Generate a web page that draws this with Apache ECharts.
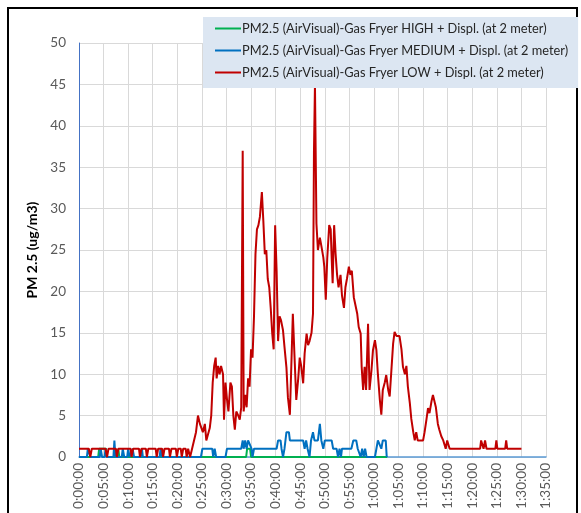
<!DOCTYPE html>
<html>
<head>
<meta charset="utf-8">
<script src="https://cdn.jsdelivr.net/npm/echarts@6/dist/echarts.min.js"></script>
<style>
  html, body { margin: 0; padding: 0; background: #ffffff; }
  #chart { width: 581px; height: 513px; }
</style>
</head>
<body>
<div id="chart"></div>
<script>
// Elapsed time is in minutes; PM2.5 readings in ug/m3.
const seriesNames = [
  'PM2.5 (AirVisual)-Gas Fryer HIGH + Displ. (at 2 meter)',
  'PM2.5 (AirVisual)-Gas Fryer MEDIUM + Displ. (at 2 meter)',
  'PM2.5 (AirVisual)-Gas Fryer LOW + Displ. (at 2 meter)'
];

const highTime = [0, 3.9, 4.1, 5.5, 5.7, 7.9, 8.0, 8.2, 34.0, 34.2, 34.8, 35.0, 62.7];
const highVal  = [0, 0,   1,   1,   0,   0,   1,   0,   0,    1,    1,    0,    0];

const mediumTime = [0, 1.6, 1.8, 2.1, 2.3, 4.2, 4.4, 4.7, 5.2, 5.4, 5.6, 7.0, 7.2, 7.4, 8.7, 8.9, 9.2, 9.8, 10.0, 10.3,
  10.7, 10.9, 11.2, 12.6, 12.8, 13.0, 16.4, 16.6, 16.9, 24.8, 25.1, 27.1, 27.3, 27.6, 27.9, 29.8, 30.1, 33.0, 33.3, 33.5,
  33.8, 34.1, 34.4, 34.8, 35.1, 35.3, 35.6, 40.2, 40.5, 41.0, 41.2, 41.5, 41.8, 42.0, 42.2, 42.7, 42.9, 45.6, 45.9, 46.2,
  46.5, 46.9, 47.2, 47.6, 47.9, 48.2, 48.6, 49.0, 49.3, 49.7, 50.0, 51.4, 51.7, 52.4, 52.7, 53.0, 53.3, 53.5, 55.4, 55.8,
  56.4, 56.7, 57.1, 57.3, 57.6, 57.9, 58.2, 58.5, 60.2, 60.5, 60.8, 61.2, 61.5, 61.8, 62.4, 62.6, 62.7];
const mediumVal = [0, 0, 1, 1, 0, 0, 1, 0, 0, 1, 0, 0, 2, 0, 0, 1, 0, 0, 1, 0,
  0, 1, 0, 0, 1, 0, 0, 1, 0, 0, 1, 1, 0, 1, 0, 0, 1, 1, 2, 1,
  2, 1, 2, 2, 1, 0, 1, 1, 2, 2, 1, 0, 1, 2, 3, 3, 2, 2, 1, 2,
  1, 0, 2, 3, 2, 2, 2, 4, 2, 1, 2, 2, 1, 1, 0, 1, 0, 1, 1, 2,
  2, 1, 1, 0, 1, 0, 1, 0, 0, 1, 2, 2, 1, 2, 2, 0, 0];

const lowTime = [0, 2.0, 2.3, 2.6, 5.4, 5.7, 6.0, 7.5, 7.7, 8.0, 10.5, 10.7, 11.0, 12.2, 12.4, 12.7, 13.6, 13.8, 14.1, 15.6,
  15.8, 16.1, 16.9, 17.1, 17.4, 18.3, 18.5, 18.8, 19.7, 19.9, 20.2, 20.7, 20.9, 21.2, 21.7, 21.9, 22.2, 22.6, 23.0, 23.4,
  23.8, 24.2, 24.6, 24.9, 25.2, 25.6, 25.9, 26.3, 26.6, 26.9, 27.2, 27.5, 27.8, 28.0, 28.3, 28.6, 28.9, 29.3, 29.5, 29.8,
  30.1, 30.4, 30.8, 31.1, 31.4, 31.7, 32.0, 32.4, 32.7, 33.0, 33.3, 33.5, 33.8, 34.1, 34.4, 34.7, 35.0, 35.3, 35.6, 35.9,
  36.2, 36.5, 36.8, 37.2, 37.5, 37.8, 38.1, 38.4, 38.7, 39.0, 39.3, 39.6, 39.9, 40.2, 40.5, 40.8, 41.1, 41.5, 41.8, 42.2,
  42.5, 42.9, 43.2, 43.5, 43.9, 44.2, 44.6, 44.9, 45.2, 45.6, 45.9, 46.3, 46.6, 46.9, 47.3, 47.6, 47.8, 48.0, 48.3, 48.6,
  49.0, 49.3, 49.7, 49.9, 50.2, 50.5, 50.9, 51.2, 51.4, 51.6, 51.9, 52.2, 52.5, 52.8, 53.2, 53.5, 53.9, 54.2, 54.5, 54.9,
  55.2, 55.5, 55.9, 56.2, 56.6, 56.9, 57.3, 57.5, 57.8, 58.1, 58.4, 58.8, 59.1, 59.5, 59.8, 60.2, 60.5, 60.8, 61.2, 61.5,
  61.8, 62.2, 62.5, 62.9, 63.2, 63.5, 63.9, 64.2, 64.6, 65.2, 65.6, 65.9, 66.3, 66.6, 66.9, 67.3, 67.6, 68.0, 68.3, 68.6,
  68.9, 70.0, 70.3, 70.7, 71.0, 71.3, 71.7, 72.0, 72.3, 72.6, 73.0, 73.3, 73.7, 74.1, 74.4, 74.6, 74.9, 75.1, 75.4, 81.6,
  81.8, 82.0, 82.3, 82.6, 82.9, 84.7, 84.9, 85.1, 86.7, 86.9, 87.1, 90.0];
const lowVal = [1, 1, 0, 1, 1, 0, 1, 1, 0, 1, 1, 0, 1, 1, 0, 1, 1, 0, 1, 1,
  0, 1, 1, 0, 1, 1, 0, 1, 1, 0, 1, 1, 0, 1, 1, 0, 1, 0, 1, 2,
  3, 5, 4, 4, 3, 4, 2, 2, 3.5, 5, 9, 11, 12, 9.5, 11, 10, 11, 10, 4.5, 9,
  7, 5.5, 9, 8.5, 5, 3.3, 5.5, 5, 4.5, 6, 37, 5.5, 7.5, 6, 9.5, 8.5, 13, 12, 17, 24.5,
  27.5, 28, 29, 32, 28.5, 24.5, 25, 21.5, 20.5, 18, 15, 13, 28, 22.5, 14, 17, 16.5, 15.3, 13.3, 10.8,
  7.2, 5.1, 5.1, 17.3, 11.3, 6.9, 9.5, 12, 11, 8.9, 12.5, 14.9, 13.5, 14, 15, 17.3, 37, 45, 28.2, 25,
  26.5, 25.5, 24.1, 23, 19, 24, 28, 27.5, 24, 21, 28, 24.5, 22, 20.5, 22, 19.5, 18, 20.5, 21.5, 23,
  22, 22.5, 19.3, 19.5, 17.3, 15.7, 14.9, 10.9, 8.1, 10.9, 8.1, 16.1, 8.1, 10.5, 12.9, 14.1, 12.9, 10, 6.9, 5.1,
  8.1, 9, 9.9, 8.1, 7.3, 7.5, 13.7, 15.1, 14.6, 14.6, 13, 10.9, 10, 11, 8.5, 6.5, 4.6, 3, 2, 3,
  2, 2, 3, 4.6, 5.9, 5.3, 6.7, 7.5, 7.5, 6, 4, 3.3, 2.5, 2, 2, 1, 2, 2, 1, 1,
  2, 2, 1, 2, 1, 1, 2, 1, 1, 2, 1, 1];

const yTicks = { min: 0, max: 50, step: 5 };
const xTicks = { min: 0, max: 95, step: 5 };

function pairs(ts, vs) { return ts.map((t, i) => [t, vs[i]]); }
function clock(m) {
  const h = Math.floor(m / 60);
  const mm = Math.round(m % 60);
  return h + ':' + String(mm).padStart(2, '0') + ':00';
}

const FONT = 'Lato, "Open Sans", sans-serif';
const chart = echarts.init(document.getElementById('chart'), null, { renderer: 'canvas' });

chart.setOption({
  animation: false,
  backgroundColor: '#ffffff',
  textStyle: { fontFamily: FONT },
  graphic: [{
    type: 'rect', silent: true, z: -1,
    shape: { x: 8, y: 8, width: 569, height: 520 },
    style: { fill: 'none', stroke: '#000000', lineWidth: 2 }
  }],
  grid: { left: 79, right: 35, top: 43, bottom: 56, containLabel: false },
  legend: {
    orient: 'vertical',
    left: 203, top: 17,
    backgroundColor: '#dce6f2',
    padding: [4, 10, 8, 12],
    itemGap: 7,
    itemWidth: 26, itemHeight: 2,
    icon: 'rect',
    textStyle: { fontFamily: FONT, fontSize: 12.8, color: '#262626', lineHeight: 15, padding: [0, 0, 0, -4] },
    data: seriesNames
  },
  xAxis: {
    type: 'value',
    min: xTicks.min, max: xTicks.max, interval: xTicks.step,
    axisLine: { show: true, lineStyle: { color: '#5b9bd5', width: 1.5 } },
    axisTick: { show: false },
    splitLine: { show: true, lineStyle: { color: '#d9d9d9', width: 1 } },
    axisLabel: { rotate: 90, fontSize: 13.5, color: '#595959', margin: 6, formatter: clock, fontFamily: FONT }
  },
  yAxis: {
    type: 'value',
    min: yTicks.min, max: yTicks.max, interval: yTicks.step,
    name: 'PM 2.5 (ug/m3)',
    nameLocation: 'middle', nameRotate: 90, nameGap: 39,
    nameTextStyle: { fontFamily: FONT, fontSize: 14, fontWeight: 'bold', color: '#000000' },
    axisLine: { show: true, lineStyle: { color: '#4472c4', width: 1 } },
    axisTick: { show: false },
    splitLine: { show: true, lineStyle: { color: '#d9d9d9', width: 1 } },
    axisLabel: { fontSize: 13.5, color: '#595959', margin: 13, fontFamily: FONT }
  },
  series: [
    { name: seriesNames[0], type: 'line', data: pairs(highTime, highVal), showSymbol: false,
      lineStyle: { color: '#00b050', width: 2 }, itemStyle: { color: '#00b050' } },
    { name: seriesNames[1], type: 'line', data: pairs(mediumTime, mediumVal), showSymbol: false,
      lineStyle: { color: '#0070c0', width: 2 }, itemStyle: { color: '#0070c0' } },
    { name: seriesNames[2], type: 'line', data: pairs(lowTime, lowVal), showSymbol: false,
      lineStyle: { color: '#c00000', width: 2 }, itemStyle: { color: '#c00000' } }
  ]
});
</script>
</body>
</html>
